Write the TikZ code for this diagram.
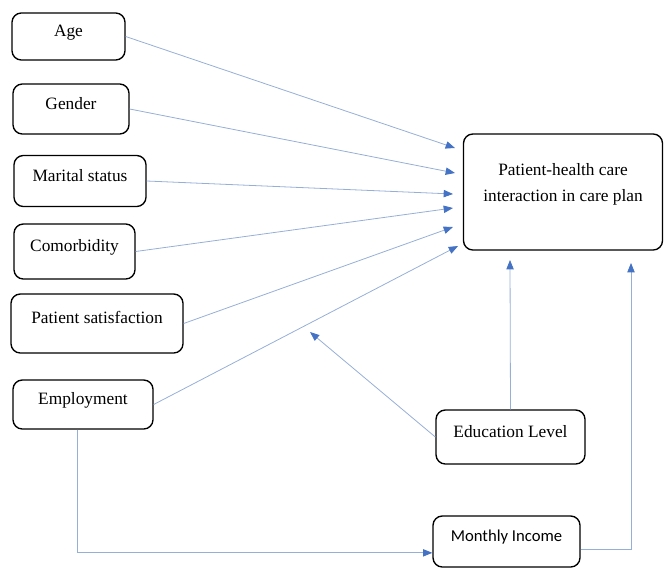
\documentclass[tikz,border=0pt]{standalone}
\usepackage{fontspec}
\setmainfont{Liberation Serif}
\newfontfamily\calibrifont{Carlito}
\usetikzlibrary{positioning}
\usetikzlibrary{arrows.meta}
\definecolor{lineblue}{RGB}{150,175,215}
\definecolor{tipblue}{RGB}{68,114,196}
\tikzset{
    varbox/.style = {rectangle, rounded corners=7pt, line width=1pt, draw=black, align=center, fill=white, font=\fontsize{13}{16}\selectfont, text height=8pt, text depth=8pt, inner sep=0pt},
    outbox/.style = {varbox, text height=24.5pt, text depth=10pt, font=\fontsize{13}{19.5}\selectfont},
    edgeb/.style = {-{Triangle[length=7pt,width=5.5pt,color=tipblue]}, line width=0.6pt, lineblue},
}
\begin{document}
\begin{tikzpicture}[x=0.75pt, y=-0.75pt]
  \useasboundingbox (0,0) rectangle (664,571);
  % factors
  \node[varbox, minimum width=84.75pt, minimum height=35.25pt] (age) at (68.5,36.5) {Age};
  \node[varbox, minimum width=87pt, minimum height=37.5pt] (gender) at (71,109) {Gender};
  \node[varbox, minimum width=99pt, minimum height=38.25pt] (marital) at (80,181) {Marital status};
  \node[varbox, minimum width=90.75pt, minimum height=41.25pt] (comorb) at (74.5,251.5) {Comorbidity};
  \node[varbox, minimum width=129pt, minimum height=44.25pt] (satis) at (97,323.5) {Patient satisfaction};
  \node[varbox, minimum width=105pt, minimum height=36.75pt] (employ) at (83,404.5) {Employment};
  % outcome and moderators
  \node[outbox, minimum width=149.25pt, minimum height=87pt] (inter) at (563,192) {Patient-health care\\interaction in care plan};
  \node[varbox, minimum width=111.75pt, minimum height=40.5pt] (edu) at (510.5,437) {Education Level};
  \node[varbox, minimum width=110.25pt, minimum height=38.25pt, font=\calibrifont\fontsize{12.5}{15}\selectfont] (income) at (506.5,541.5) {Monthly Income};

  \coordinate (t1) at (455,148);
  \coordinate (t2) at (455,173);
  \coordinate (t3) at (453,194);
  \coordinate (t4) at (453,208);
  \coordinate (t5) at (453,227);
  \coordinate (t6) at (458,246);
  \coordinate (t7) at (310,332);
  \coordinate (t8) at (510,260);
  \coordinate (t9) at (631,263);

  \draw[edgeb] (age.east) -- (t1);
  \draw[edgeb] (gender.east) -- (t2);
  \draw[edgeb] (marital.east) -- (t3);
  \draw[edgeb] (comorb.east) -- (t4);
  \draw[edgeb] (satis.east) -- (t5);
  \draw[edgeb] (employ.east) -- (t6);
  \draw[edgeb] (edu.west) -- (t7);
  \draw[edgeb] (edu.north) -- (t8);
  \draw[edgeb] ([yshift=-6pt]income.east) -| (t9);
  \draw[edgeb] ([xshift=-4pt]employ.south) |- ([yshift=-8.5pt]income.west);
\end{tikzpicture}
\end{document}
